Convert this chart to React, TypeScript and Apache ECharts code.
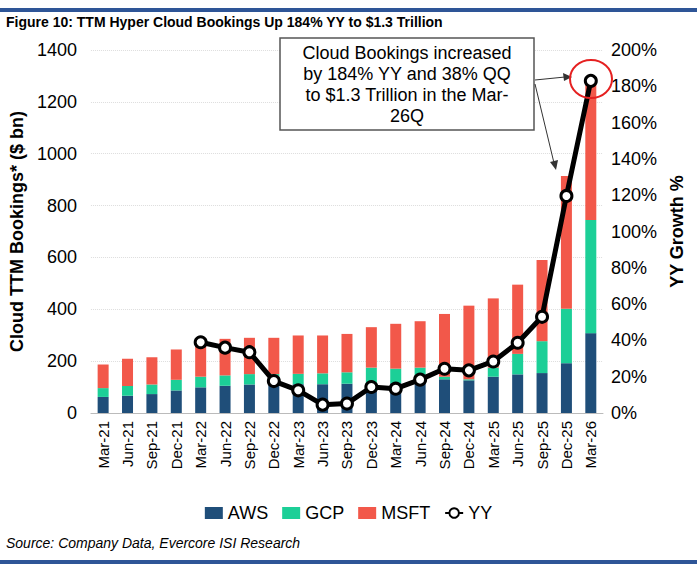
import { useRef, useEffect } from 'react'
import * as echarts from 'echarts'

const categories = ['Mar-21', 'Jun-21', 'Sep-21', 'Dec-21', 'Mar-22', 'Jun-22', 'Sep-22', 'Dec-22', 'Mar-23', 'Jun-23', 'Sep-23',
  'Dec-23', 'Mar-24', 'Jun-24', 'Sep-24', 'Dec-24', 'Mar-25', 'Jun-25', 'Sep-25', 'Dec-25', 'Mar-26']
const aws = [62, 67, 73, 87, 99, 105, 110, 112, 111, 111, 113, 113, 115, 120, 130, 126, 140, 149, 154, 192, 308]
const gcp = [34, 37, 37, 41, 41, 40, 40, 38, 40, 42, 44, 62, 56, 55, 10, 4, 35, 79, 123, 210, 436]
const msft = [91, 105, 105, 117, 130, 141, 140, 140, 148, 146, 148, 156, 173, 179, 242, 284, 267, 267, 313, 512, 546]
const yy = [null, null, null, null, 39, 36, 33.5, 17.6, 12.5, 4.6, 5.2, 14.3, 13.4, 18.4, 24.4, 23.5, 28.4, 38.7, 53, 119.6, 183]

const FONT = 'Liberation Sans, Arial, sans-serif'

function buildOption(): echarts.EChartsOption {
  const bar = (name: string, data: number[], color: string) => ({
    name, type: 'bar', stack: 'b', data, barWidth: 11,
    itemStyle: { color },
  })
  return {
    animation: false,
    backgroundColor: '#fff',
    textStyle: { fontFamily: FONT },
    grid: { left: 76, right: 94, top: 50, bottom: 162 },
    legend: {
      bottom: 48, left: 'center', itemGap: 14, itemWidth: 18, itemHeight: 12,
      textStyle: { fontSize: 18, color: '#000', fontFamily: FONT },
      data: [
        { name: 'AWS', icon: 'rect' },
        { name: 'GCP', icon: 'rect' },
        { name: 'MSFT', icon: 'rect' },
        { name: 'YY' },
      ],
    },
    xAxis: {
      type: 'category', data: categories,
      axisLine: { lineStyle: { color: '#bbb' } },
      axisTick: { show: false },
      axisLabel: { rotate: 90, fontSize: 15, color: '#000', interval: 0, margin: 8 },
    },
    yAxis: [
      {
        type: 'value', min: 0, max: 1400, interval: 200,
        name: 'Cloud TTM Bookings* ($ bn)', nameLocation: 'middle', nameGap: 50, nameRotate: 90,
        nameTextStyle: { fontSize: 18, fontWeight: 'bold', color: '#000' },
        axisLabel: { fontSize: 18, color: '#000', margin: 14, formatter: (v: number) => String(v) },
        splitLine: { lineStyle: { color: '#ddd', type: 'dotted' } },
      },
      {
        type: 'value', min: 0, max: 200, interval: 20,
        name: 'YY Growth %', nameLocation: 'middle', nameGap: 62, nameRotate: 90,
        nameTextStyle: { fontSize: 18, fontWeight: 'bold', color: '#000' },
        axisLabel: { fontSize: 18, color: '#000', formatter: '{value}%', margin: 8 },
        splitLine: { show: false },
      },
    ],
    series: [
      bar('AWS', aws, '#1f4e79'),
      bar('GCP', gcp, '#1ccf97'),
      bar('MSFT', msft, '#f2584a'),
      {
        name: 'YY', type: 'line', yAxisIndex: 1, data: yy,
        symbol: 'circle', symbolSize: 11, showAllSymbol: true,
        lineStyle: { color: '#000', width: 5 },
        itemStyle: { color: '#fff', borderColor: '#000', borderWidth: 3 },
      },
    ] as any,
    graphic: [
      { type: 'rect', shape: { x: 0, y: 8, width: 697, height: 4 }, style: { fill: '#2e5597' } },
      { type: 'rect', shape: { x: 0, y: 560, width: 697, height: 4 }, style: { fill: '#2e5597' } },
      {
        type: 'text', left: 6, top: 15,
        style: { text: 'Figure 10: TTM Hyper Cloud Bookings Up 184% YY to $1.3 Trillion', font: `bold 14px ${FONT}`, fill: '#000' },
      },
      {
        type: 'text', left: 6, top: 536,
        style: { text: 'Source: Company Data, Evercore ISI Research', font: `italic 14px ${FONT}`, fill: '#000' },
      },
      {
        type: 'rect', shape: { x: 280, y: 38, width: 254, height: 92 },
        style: { fill: '#fff', stroke: '#555', lineWidth: 1.5 }, z: 100,
      },
      {
        type: 'text', x: 407, y: 42, z: 101,
        style: {
          text: 'Cloud Bookings increased\nby 184% YY and 38% QQ\nto $1.3 Trillion in the Mar-\n26Q',
          font: `18px ${FONT}`, fill: '#000', align: 'center', lineHeight: 21,
        },
      },
      { type: 'line', shape: { x1: 535, y1: 80, x2: 565, y2: 77 }, style: { stroke: '#333', lineWidth: 1 }, z: 100 },
      { type: 'polygon', shape: { points: [[572, 77], [563, 73], [564, 81]] }, style: { fill: '#333' }, z: 100 },
      { type: 'line', shape: { x1: 535, y1: 84, x2: 554, y2: 163 }, style: { stroke: '#333', lineWidth: 1 }, z: 100 },
      { type: 'polygon', shape: { points: [[556, 170], [550, 162], [558, 160]] }, style: { fill: '#333' }, z: 100 },
      {
        type: 'ellipse', shape: { cx: 591, cy: 79, rx: 21, ry: 19 },
        style: { fill: 'none', stroke: '#e52020', lineWidth: 2 }, z: 100,
      },
    ],
  } as echarts.EChartsOption
}

export default function App() {
  const ref = useRef<HTMLDivElement>(null)
  useEffect(() => {
    if (!ref.current) return
    const chart = echarts.init(ref.current, null, { renderer: 'svg' })
    chart.setOption(buildOption())
    return () => chart.dispose()
  }, [])
  return <div ref={ref} style={{ position: 'fixed', left: 0, top: 0, width: 697, height: 575, background: '#fff' }} />
}
